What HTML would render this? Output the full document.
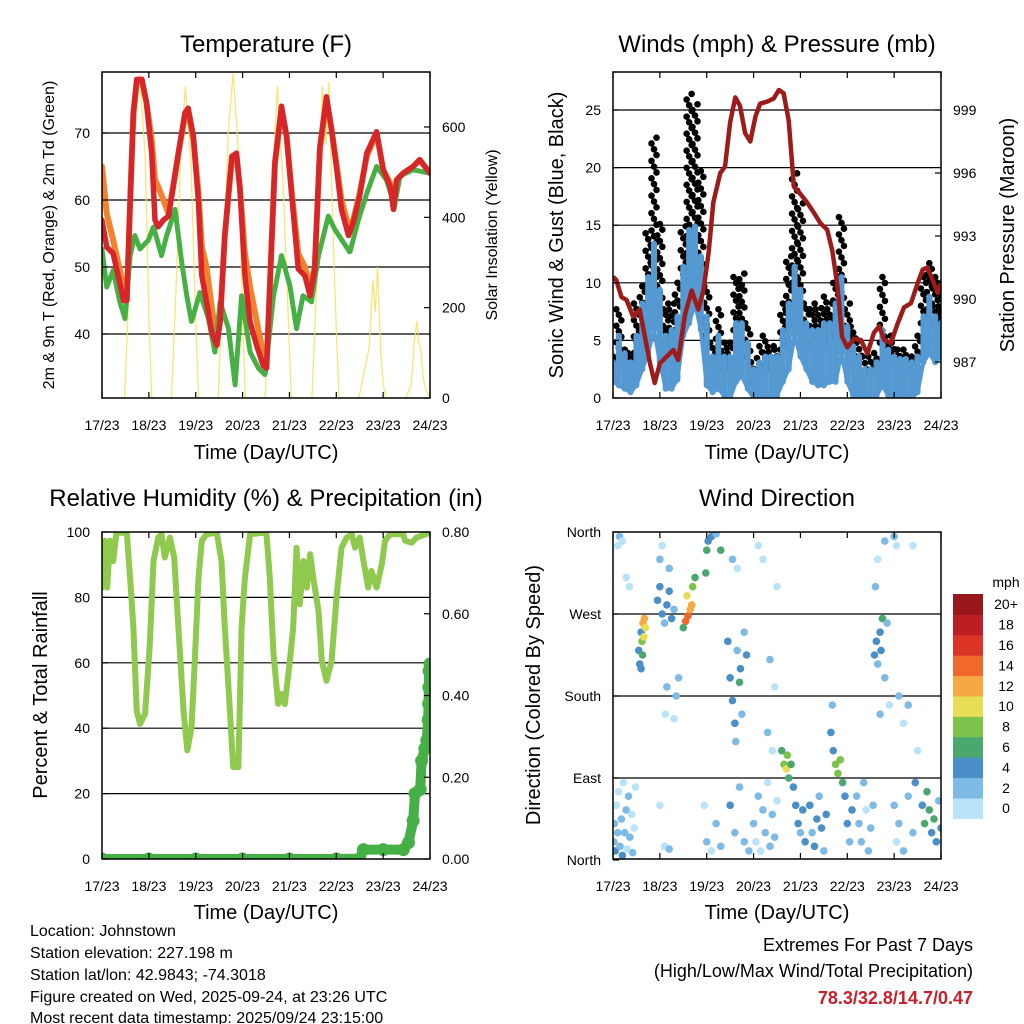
<!DOCTYPE html>
<html><head><meta charset="utf-8"><title>Station Meteogram</title>
<style>
html,body{margin:0;padding:0;background:#fff;}
svg{display:block;font-family:"Liberation Sans",Arial,sans-serif;}
</style></head>
<body>
<svg id="chart" width="1024" height="1024" viewBox="0 0 1024 1024" xmlns="http://www.w3.org/2000/svg">
<rect x="0" y="0" width="1024" height="1024" fill="#fff"/>
<text x="266" y="52" font-size="24" text-anchor="middle">Temperature (F)</text>
<text x="777" y="52" font-size="24" text-anchor="middle">Winds (mph) &amp; Pressure (mb)</text>
<text x="266" y="506" font-size="24" text-anchor="middle">Relative Humidity (%) &amp; Precipitation (in)</text>
<text x="777" y="506" font-size="24" text-anchor="middle">Wind Direction</text>
<text x="266" y="459" font-size="20" text-anchor="middle">Time (Day/UTC)</text>
<text x="777" y="459" font-size="20" text-anchor="middle">Time (Day/UTC)</text>
<text x="266" y="919" font-size="20" text-anchor="middle">Time (Day/UTC)</text>
<text x="777" y="919" font-size="20" text-anchor="middle">Time (Day/UTC)</text>
<text transform="translate(54,235) rotate(-90)" font-size="16" text-anchor="middle">2m &amp; 9m T (Red, Orange) &amp; 2m Td (Green)</text>
<text transform="translate(497,235) rotate(-90)" font-size="16" text-anchor="middle">Solar Insolation (Yellow)</text>
<text transform="translate(563,235) rotate(-90)" font-size="20" text-anchor="middle">Sonic Wind &amp; Gust (Blue, Black)</text>
<text transform="translate(1014,235) rotate(-90)" font-size="20" text-anchor="middle">Station Pressure (Maroon)</text>
<text transform="translate(47,695) rotate(-90)" font-size="20" text-anchor="middle">Percent &amp; Total Rainfall</text>
<text transform="translate(540,695) rotate(-90)" font-size="20" text-anchor="middle">Direction (Colored By Speed)</text>
<g font-size="16">
<text x="30" y="936">Location: Johnstown</text>
<text x="30" y="958">Station elevation: 227.198 m</text>
<text x="30" y="980">Station lat/lon: 42.9843; -74.3018</text>
<text x="30" y="1002">Figure created on Wed, 2025-09-24, at 23:26 UTC</text>
<text x="30" y="1023">Most recent data timestamp: 2025/09/24 23:15:00</text>
</g>
<text x="973" y="951" font-size="18" text-anchor="end">Extremes For Past 7 Days</text>
<text x="973" y="977" font-size="18" text-anchor="end">(High/Low/Max Wind/Total Precipitation)</text>
<text x="973" y="1004" font-size="18" font-weight="bold" fill="#c8202a" text-anchor="end">78.3/32.8/14.7/0.47</text>
<g id="marks"></g>
</svg>
<script>
const dayLabels = ["17/23","18/23","19/23","20/23","21/23","22/23","23/23","24/23"];
const tempT = [0,0.10,0.24,0.46,0.53,0.60,0.67,0.74,0.85,0.95,1.06,1.13,1.20,1.31,1.42,1.52,1.63,1.77,1.84,1.95,2.06,2.13,2.23,2.34,2.45,2.52,2.62,2.77,2.87,2.94,3.05,3.16,3.30,3.44,3.51,3.58,3.69,3.83,3.94,4.05,4.19,4.33,4.44,4.54,4.65,4.79,4.90,5.01,5.11,5.26,5.36,5.50,5.65,5.86,6.00,6.15,6.22,6.29,6.43,6.64,6.78,7.0];
const temp2m = [57,53,52,45,45,59.6,73,78,78,74.5,67,57,56,57,57.6,62,67,73,73.7,69.5,59.6,48.7,44.8,40.3,38.3,41.8,54.7,66.5,67,62,48.7,41.8,38.3,35.3,34.9,47,65.5,74,69.5,60.6,49.7,48.7,45.7,49.7,68,75.4,70.5,64.5,58.6,54.7,56.6,60.6,67,70.2,64.5,62,58.6,63,64,65,66,64];
const temp9m = [65,58,54,47,45,59.6,73,77.5,78,74.5,69,63,62,60,58,62,67,72.5,73,69,61,53,50,44,39,42,54.7,66,66.5,62,52,47,42,37,35,47,65.5,73.5,69.5,61,52,50,47,50,67.5,75,70.5,65,60,56,57,61,66.5,70,64.5,62.5,59.5,63,64,65,66,64];
const dewT = [0,0.10,0.24,0.38,0.49,0.60,0.70,0.81,0.99,1.10,1.27,1.38,1.56,1.70,1.81,1.91,2.09,2.27,2.41,2.52,2.70,2.84,2.98,3.16,3.34,3.48,3.66,3.83,4.01,4.15,4.29,4.47,4.62,4.83,4.97,5.15,5.29,5.47,5.65,5.86,6.07,6.18,6.23,6.36,6.64,7.0];
const dewV = [52.7,47,49.5,44.8,42.3,51.7,54.7,52.7,54,56,51.7,54.7,58.6,50.7,45.7,41.8,46.2,42.3,37.3,44.8,40.8,32.4,45.7,37.3,34.9,33.9,45.7,51.7,47.2,40.8,45.7,44.8,51.7,57.6,55.6,53.7,52.2,57,61,65,63,60.6,58.6,63.6,64.5,64];
const solT = [0,0.48,0.58,0.68,0.8,0.92,1.0,1.06,1.48,1.58,1.68,1.78,1.9,2.0,2.06,2.48,2.58,2.7,2.8,2.92,3.0,3.06,3.48,3.58,3.66,3.74,3.86,3.96,4.04,4.48,4.6,4.7,4.78,4.84,4.92,5.0,5.06,5.48,5.6,5.7,5.78,5.83,5.88,5.95,6.0,6.06,6.48,6.6,6.66,6.72,6.76,6.8,6.86,6.92,7.0];
const solV = [0,0,250,560,715,540,180,0,0,240,540,690,520,170,0,0,260,600,720,530,170,0,0,230,520,690,480,220,0,0,300,690,560,700,400,150,0,0,60,110,260,190,290,100,30,0,0,30,120,170,120,110,40,15,0];
const tempTicks = [40,50,60,70];
const solarTicks = [0,200,400,600];
const windT = [0,0.125,0.25,0.375,0.5,0.625,0.75,0.875,1,1.125,1.25,1.375,1.5,1.625,1.75,1.875,2,2.125,2.25,2.375,2.5,2.625,2.75,2.875,3,3.125,3.25,3.375,3.5,3.625,3.75,3.875,4,4.125,4.25,4.375,4.5,4.625,4.75,4.875,5,5.125,5.25,5.375,5.5,5.625,5.75,5.875,6,6.125,6.25,6.375,6.5,6.625,6.75,6.875,7];
const gustHi = [3.6,7.7,4.2,3.9,8.2,9.7,14.3,22.6,15.1,8.2,8.2,10.0,14.9,26.4,25.5,19.7,9.7,4.8,7.7,4.8,4.8,10.5,10.8,6.5,3.1,4.5,5.4,4.5,4.2,8.2,12.3,19.5,16.9,8.2,8.2,7.7,8.8,8.2,10.5,15.7,8.2,6.2,4.8,3.6,3.6,3.9,10.5,5.4,4.8,4.2,4.2,3.6,5.4,10.5,11.7,10.5,9.4];
const gustLo = [2.5,3.4,3.1,2.5,3.9,5.9,8.2,10.0,8.2,4.8,4.5,5.9,9.7,11.1,11.7,11.1,5.4,3.4,3.6,2.5,2.5,5.9,5.9,3.6,1.4,1.9,2.5,2.5,2.5,4.2,5.9,10.0,8.8,5.4,4.8,4.8,4.8,4.8,5.4,8.2,4.8,3.1,3.1,1.9,2.2,2.5,4.8,3.4,3.1,2.5,2.8,2.5,3.1,6.5,7.7,6.5,6.5];
const windHi = [3.1,5.4,3.9,3.1,5.4,8.2,10.5,13.4,9.4,5.4,5.9,7.1,11.4,14.6,14.9,12.3,7.1,3.6,5.4,3.6,3.6,6.5,6.5,4.8,2.5,3.1,3.6,3.6,3.6,5.9,8.2,11.4,9.4,6.5,5.9,5.9,6.5,6.5,8.2,10.5,6.2,4.5,3.6,2.5,2.5,3.1,5.9,4.2,3.6,3.4,3.4,3.1,3.6,7.1,8.8,7.1,6.5];
const windLo = [1.4,1.1,0.8,0.5,1.1,2.5,3.9,5.9,3.1,0.8,0.8,1.6,5.4,6.5,8.2,5.9,1.1,0.5,0.8,0.2,0,1.4,1.9,0.8,0,0,0.2,0,0.2,1.4,2.5,5.4,3.6,2.5,1.4,1.1,1.1,1.4,1.4,3.9,1.4,0.2,0.2,0,0,0.2,1.1,0.2,0,0,0.2,0,0.5,3.1,3.9,3.1,3.6];
const presT = [0,0.07,0.18,0.29,0.43,0.57,0.68,0.79,0.89,1.0,1.14,1.29,1.39,1.54,1.68,1.82,1.93,2.04,2.14,2.29,2.39,2.5,2.61,2.71,2.82,2.93,3.04,3.14,3.29,3.43,3.54,3.64,3.75,3.86,4.0,4.14,4.29,4.43,4.57,4.68,4.79,4.89,5.0,5.14,5.29,5.43,5.57,5.68,5.79,5.93,6.07,6.21,6.36,6.5,6.61,6.71,6.82,6.93,7.0];
const presV = [991.06,990.9,990.1,989.95,989.16,989.5,988.2,986.94,986.0,986.94,987.25,987.57,987.1,989.3,990.4,989.5,990.4,992.2,994.6,996.0,996.3,998.4,999.6,999.2,997.9,997.5,998.7,999.3,999.4,999.55,999.95,999.8,998.5,995.35,995.0,994.6,994.1,993.6,993.3,992.3,990.6,988.2,987.7,988.1,988.05,987.4,988.4,988.7,988.05,987.9,988.8,989.6,989.8,990.75,991.4,991.5,990.9,990.3,990.75];
const windTicks = [0,5,10,15,20,25];
const presTicks = [987,990,993,996,999];
const rhT = [0,0.06,0.11,0.17,0.24,0.31,0.53,0.60,0.67,0.74,0.81,0.92,1.02,1.10,1.20,1.27,1.34,1.45,1.54,1.63,1.74,1.82,1.91,1.98,2.06,2.13,2.23,2.45,2.55,2.62,2.73,2.80,2.91,2.98,3.05,3.16,3.44,3.51,3.58,3.66,3.76,3.83,3.90,4.01,4.08,4.15,4.22,4.30,4.37,4.44,4.51,4.62,4.69,4.79,4.90,5.01,5.11,5.22,5.33,5.40,5.50,5.58,5.68,5.75,5.86,5.97,6.04,6.15,6.43,6.47,6.61,6.71,7.0];
const rhV = [83,97.3,83,97.3,91.1,99.8,99.8,86,70.8,45.4,41.3,44.4,65.7,91.1,98.3,99.3,92.2,98.3,92.2,70.8,45.4,33.2,40.3,60.6,86,97.3,99.3,99.8,91.1,70.8,45.4,28.1,28.1,70.8,86,99.3,99.8,99.3,86,62.7,47.4,50.5,47.4,60.6,70.8,95.2,77.9,91.1,83,93.2,86,75.9,60.6,54.5,60.6,81,95.2,98.3,99.3,95.2,98.3,91.1,83,88.1,83,90.1,97.3,99.3,99.3,97.3,96.7,98.3,99.8];
const prT = [0,1,2,3,4,5,5.5,5.58,6.0,6.43,6.54,6.64,6.68,6.79,6.82,6.89,6.93,6.96,6.97,6.975,6.98,7.0];
const prV = [0,0,0,0,0,0,0.001,0.023,0.023,0.023,0.04,0.094,0.16,0.17,0.24,0.27,0.29,0.34,0.38,0.42,0.46,0.477];
const rhTicks = [0,20,40,60,80,100];
const prTicks = ["0.00","0.20","0.40","0.60","0.80"];
const dirT = [0.02,0.03,0.05,0.07,0.1,0.12,0.15,0.18,0.2,0.22,0.25,0.28,0.3,0.33,0.36,0.4,0.42,0.45,0.48,0.1,0.14,0.2,0.28,0.35,
0.55,0.57,0.6,0.62,0.64,0.67,0.69,0.6,0.63,0.66,
0.95,1.0,1.05,1.1,1.15,1.2,1.25,1.3,1.0,1.05,1.2,1.12,1.15,1.3,1.35,1.4,1.0,1.1,1.2,
1.55,1.6,1.65,1.58,1.7,1.68,1.5,1.75,
1.98,2.0,2.03,2.1,2.2,2.3,2.0,2.1,2.2,2.3,1.95,
2.45,2.5,2.55,2.6,2.62,2.65,2.7,2.72,2.75,2.8,2.85,2.5,2.6,2.7,2.8,2.9,2.55,2.65,
3.0,3.05,3.1,3.15,3.2,3.25,3.3,3.35,3.4,3.45,3.5,3.1,3.2,3.35,3.45,3.5,3.3,3.4,
3.6,3.65,3.7,3.72,3.75,3.8,3.85,3.9,3.95,4.0,4.05,4.1,
4.2,4.25,4.3,4.35,4.4,4.45,4.5,4.55,
4.65,4.68,4.7,4.75,4.8,4.85,4.9,4.95,5.0,5.05,5.1,
5.2,5.25,5.3,5.35,5.4,5.45,5.5,5.55,
5.58,5.62,5.65,5.7,5.75,5.72,5.8,5.85,5.6,5.65,5.8,5.7,5.9,
6.0,6.05,6.1,6.2,6.3,6.4,6.0,6.05,6.1,6.2,6.3,6.4,6.45,6.5,
6.6,6.65,6.7,6.75,6.8,6.85,6.9,6.95,7.0];
const dirV = [20,40,10,60,30,75,15,45,5,85,30,55,12,70,25,50,8,35,80,345,355,350,310,300,
230,215,250,240,260,265,255,210,225,245,
285,300,270,260,280,295,265,275,330,345,320,160,190,155,180,200,60,15,12,
262,268,275,290,300,280,255,310,
315,340,350,355,358,340,20,10,40,15,60,
240,200,175,150,130,230,195,210,160,250,225,60,30,80,20,10,330,320,
40,20,70,10,55,30,85,15,50,25,65,345,330,220,190,300,140,120,
120,105,100,115,90,105,80,60,40,30,55,20,
60,30,15,45,70,35,10,50,
140,170,120,105,95,110,85,70,40,20,55,
70,40,20,85,55,10,35,60,
225,240,215,250,265,230,200,260,300,330,350,160,170,
355,345,180,150,170,345,60,20,40,10,70,30,85,120,
60,40,75,55,30,45,20,65,35];
const dirS = [2,3,4,1,2,1,3,2,4,1,2,3,1,2,3,1,2,1,0,1,2,1,1,1,
4,4,5,8,12,13,10,4,7,11,
4,4,5,3,4,5,4,3,2,1,2,1,2,1,2,3,1,1,2,
14,15,13,10,9,12,6,7,
6,6,5,4,3,6,2,1,2,3,1,
4,4,5,4,3,3,6,4,3,2,4,4,3,2,3,2,2,1,
2,1,2,1,2,3,1,2,3,2,1,1,1,2,1,1,2,1,
6,9,10,9,7,6,4,4,4,3,4,4,
4,3,4,4,3,4,3,4,
4,3,4,8,9,8,6,4,4,3,4,
2,2,3,2,1,2,3,2,
4,4,3,5,6,4,3,2,2,1,2,2,1,
2,1,2,1,2,1,2,1,3,2,2,3,4,1,
4,6,7,6,4,6,4,3,4];
const dirTicks = ["North","East","South","West","North"];
const speedBins = ["0","2","4","6","8","10","12","14","16","18","20+"];
const speedColors = ["#b9e3f8","#7dbbe6","#4a8fc7","#4aa86f","#7dc24b","#e6df55","#f7a843","#f0692b","#dd3428","#bd1e24","#97171b"];

const NS = "http://www.w3.org/2000/svg";
const root = document.getElementById("marks");
function mk(tag, attrs, parent){
  const e = document.createElementNS(NS, tag);
  for (const k in attrs) e.setAttribute(k, attrs[k]);
  (parent || root).appendChild(e);
  return e;
}
function txt(x, y, s, size, anchor){
  const e = mk("text", {x:x, y:y, "font-size":size, "text-anchor":anchor});
  e.textContent = s;
  return e;
}
const DAYPX = 46.86;
const P1 = {x0:102, x1:430, y0:72, y1:398};
const P2 = {x0:613, x1:941, y0:72, y1:398};
const P3 = {x0:102, x1:430, y0:532, y1:859};
const P4 = {x0:613, x1:941, y0:532, y1:859};
const x1 = t => P1.x0 + t*DAYPX;
const x2 = t => P2.x0 + t*DAYPX;
const x3 = t => P3.x0 + t*DAYPX;
const x4 = t => P4.x0 + t*DAYPX;
const yTemp = v => 133 + (70 - v)*6.7;
const ySol = v => 398 - v*0.4517;
const yWind = v => 398 - v*11.52;
const yPres = v => 362 - (v - 987)*21;
const yRH = v => 859 - v*3.27;
const yPr = v => 859 - v/0.8*327;
const yDir = v => 860 - v/360*328;

function clip(id, P){
  const c = mk("clipPath", {id:id});
  mk("rect", {x:P.x0, y:P.y0, width:P.x1-P.x0, height:P.y1-P.y0}, c);
}
clip("c1",P1); clip("c2",P2); clip("c3",P3); clip("c4",P4);

function pathD(ts, vs, fx, fy){
  let d = "";
  for (let i=0;i<ts.length;i++) d += (i?"L":"M") + fx(ts[i]).toFixed(1) + "," + fy(vs[i]).toFixed(1);
  return d;
}
function hgrid(P, ys, name){
  ys.forEach(y => {
    const l = mk("line", {x1:P.x0, x2:P.x1, y1:y, y2:y, stroke:"#000", "stroke-width":1.2});
    
    
  });
}
function frame(P, name, fx){
  const r = mk("rect", {x:P.x0, y:P.y0, width:P.x1-P.x0, height:P.y1-P.y0, fill:"none", stroke:"#000", "stroke-width":1.5});
  
  
  dayLabels.forEach((lab, i) => {
    const x = fx(i);
    const tb = mk("line", {x1:x, x2:x, y1:P.y1, y2:P.y1-6, stroke:"#000", "stroke-width":1.2});
    
    
    const tt = mk("line", {x1:x, x2:x, y1:P.y0, y2:P.y0+6, stroke:"#000", "stroke-width":1.2});
    
    
    const t = txt(x, P.y1+32, lab, 14, "middle");
    
    
  });
}
function yTicks(P, vals, labels, fy, side){
  vals.forEach((v, i) => {
    const y = fy(v);
    const xe = side==="left" ? P.x0 : P.x1;
    const l = mk("line", {x1:xe, x2: side==="left" ? xe+6 : xe-6, y1:y, y2:y, stroke:"#000", "stroke-width":1.2});
    
    
    const t = txt(side==="left" ? P.x0-12 : P.x1+12, y+5, labels[i], 14, side==="left" ? "end" : "start");
    
    
  });
}

// panel 1
hgrid(P1, tempTicks.map(yTemp), 'temp-gridline');
const g1 = mk("g", {"clip-path":"url(#c1)"});


const sol = mk("path", {d:pathD(solT, solV, x1, ySol), fill:"none", stroke:"#f9e15a", "stroke-width":1.3, "stroke-opacity":0.85}, g1);


const t9 = mk("path", {d:pathD(tempT, temp9m, x1, yTemp), fill:"none", stroke:"#f4812c", "stroke-width":6, "stroke-linejoin":"round", "stroke-linecap":"round"}, g1);


const dw = mk("path", {d:pathD(dewT, dewV, x1, yTemp), fill:"none", stroke:"#46b045", "stroke-width":5, "stroke-linejoin":"round", "stroke-linecap":"round", "stroke-dasharray":"4 1.5"}, g1);


const t2 = mk("path", {d:pathD(tempT, temp2m, x1, yTemp), fill:"none", stroke:"#d7262a", "stroke-width":5.5, "stroke-linejoin":"round", "stroke-linecap":"round"}, g1);


frame(P1, 'temperature-frame', i => x1(i));
yTicks(P1, tempTicks, tempTicks.map(String), yTemp, "left");
yTicks(P1, solarTicks, solarTicks.map(String), ySol, "right");

// panel 2
hgrid(P2, windTicks.slice(1).map(yWind), 'wind-gridline');
const g2 = mk("g", {"clip-path":"url(#c2)"});


windT.forEach((t, i) => {
  const lo = gustLo[i], hi = gustHi[i];
  const n = Math.max(1, Math.round((hi - lo)/0.5));
  for (let k = 0; k <= n; k++) {
    const v = lo + (hi - lo)*k/n;
    const dx = (k % 3 === 0 ? -2.5 : (k % 3 === 1 ? 2.5 : 0));
    const c = mk("circle", {cx:x2(t)+dx, cy:yWind(v), r:3.3, fill:"#000"}, g2);
    
    
  }
});
windT.forEach((t, i) => {
  const b = mk("line", {x1:x2(t), x2:x2(t), y1:yWind(windLo[i]), y2:yWind(windHi[i]), stroke:"#5499d2", "stroke-width":6, "stroke-linecap":"round"}, g2);
  
  
});
const wl = mk("path", {d:pathD(windT, windLo, x2, yWind), fill:"none", stroke:"#5499d2", "stroke-width":4, "stroke-linejoin":"round"}, g2);


const pr = mk("path", {d:pathD(presT, presV, x2, yPres), fill:"none", stroke:"#9c1b1b", "stroke-width":4.5, "stroke-linejoin":"round"}, g2);


frame(P2, 'winds-frame', i => x2(i));
yTicks(P2, windTicks, windTicks.map(String), yWind, "left");
yTicks(P2, presTicks, presTicks.map(String), yPres, "right");

// panel 3
hgrid(P3, rhTicks.slice(1,5).map(yRH), 'humidity-gridline');
const g3 = mk("g", {"clip-path":"url(#c3)"});


const rh = mk("path", {d:pathD(rhT, rhV, x3, yRH), fill:"none", stroke:"#8fc94e", "stroke-width":6, "stroke-linejoin":"round", "stroke-linecap":"round"}, g3);


const pl = mk("path", {d:pathD(prT, prV, x3, yPr), fill:"none", stroke:"#45b045", "stroke-width":10, "stroke-linejoin":"round"}, g3);


prT.forEach((t, i) => {
  const c = mk("circle", {cx:x3(t), cy:yPr(prV[i]), r:6.5, fill:"#45b045"}, g3);
  
  
});
frame(P3, 'humidity-frame', i => x3(i));
yTicks(P3, rhTicks, rhTicks.map(String), yRH, "left");
yTicks(P3, prTicks.map(Number), prTicks, yPr, "right");

// panel 4
hgrid(P4, [90,180,270].map(yDir), 'direction-gridline');
const g4 = mk("g", {"clip-path":"url(#c4)"});


dirT.forEach((t, i) => {
  const bin = Math.min(10, Math.floor(dirS[i]/2));
  const c = mk("circle", {cx:x4(t), cy:yDir(dirV[i]), r:3.8, fill:speedColors[bin]}, g4);
  
  
});
frame(P4, 'direction-frame', i => x4(i));
yTicks(P4, [0,90,180,270,360], dirTicks, yDir, "left");
const cb0 = 594, cbh = 20.4;
speedBins.forEach((lab, i) => {
  const y = cb0 + (10 - i)*cbh;
  const r = mk("rect", {x:953, y:y, width:30, height:cbh+0.5, fill:speedColors[i]});
  
  
  const t = txt(1006, y + cbh/2 + 5, lab, 14, "middle");
  
  
});
const mph = txt(1006, 587, "mph", 14, "middle");


</script>
</body></html>
